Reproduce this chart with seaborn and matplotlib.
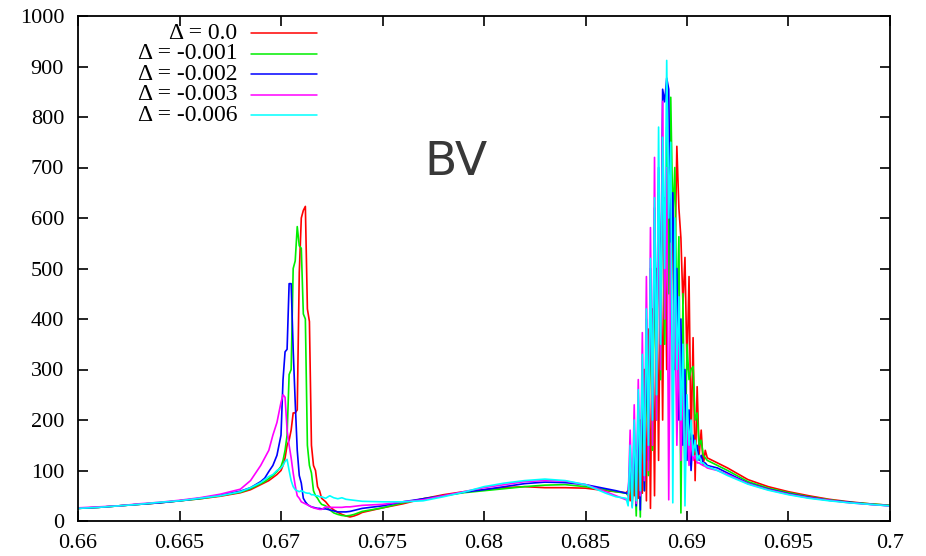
import numpy as np
import pandas as pd
import seaborn as sns
import matplotlib
matplotlib.use("Agg")
import matplotlib.pyplot as plt
from matplotlib.ticker import FuncFormatter

# ---------------- data ----------------
x_vals = ([0.660, 0.661, 0.662, 0.663, 0.664, 0.665, 0.666, 0.667, 0.668]
          + [0.6685, 0.6690, 0.6692, 0.6694, 0.6696, 0.6698, 0.6700]
          + [0.6701, 0.6702, 0.6703, 0.6704, 0.6705, 0.6706, 0.6707, 0.6708, 0.6709, 0.6710,
             0.6711, 0.6712, 0.6713, 0.6714, 0.6715, 0.6716, 0.6717, 0.6718, 0.6719, 0.6720]
          + [0.6722, 0.6724, 0.6726, 0.6728, 0.6730, 0.6732, 0.6734, 0.6736, 0.6738, 0.6740]
          + [0.675, 0.676, 0.677, 0.678, 0.679, 0.680, 0.681, 0.682, 0.683, 0.684, 0.685, 0.686]
          + [0.6865, 0.6870]
          + [0.6871, 0.6872, 0.6873, 0.6874, 0.6875, 0.6876, 0.6877, 0.6878, 0.6879, 0.6880,
             0.6881, 0.6882, 0.6883, 0.6884, 0.6885, 0.6886, 0.6887, 0.6888, 0.6889, 0.6890,
             0.6891, 0.6892, 0.6893, 0.6894, 0.6895, 0.6896, 0.6897, 0.6898, 0.6899, 0.6900,
             0.6901, 0.6902, 0.6903, 0.6904, 0.6905, 0.6906, 0.6907, 0.6908, 0.6909, 0.6910]
          + [0.6915, 0.692, 0.693, 0.694, 0.695, 0.696, 0.697, 0.698, 0.699, 0.700])

y_d0000 = ([25, 27, 30, 33, 36, 40, 44, 49, 56]
           + [62, 72, 76, 80, 86, 92, 100]
           + [110, 125, 150, 160, 180, 214, 214, 220, 492, 600, 615, 623, 420, 395, 150, 110, 100, 68, 60, 45]
           + [38, 28, 22, 17, 13, 10, 8, 10, 13, 17]
           + [26, 34, 44, 52, 58, 62, 66, 68, 66, 66, 65, 60]
           + [58, 56]
           + [60, 40, 90, 50, 140, 45, 200, 55, 300, 40, 380, 25, 420, 50, 500, 120, 560, 200, 640, 300,
              700, 380, 600, 500, 742, 620, 560, 430, 522, 300, 484, 150, 363, 80, 266, 130, 180, 110, 140, 125]
           + [115, 105, 82, 68, 58, 50, 43, 38, 34, 31])

y_d0001 = ([25, 27, 30, 33, 36, 40, 44, 50, 57]
           + [64, 74, 78, 84, 90, 98, 108]
           + [120, 140, 170, 290, 300, 500, 515, 583, 545, 540, 410, 400, 150, 110, 95, 60, 50, 45, 38, 33]
           + [30, 22, 16, 13, 11, 10, 11, 13, 16, 19]
           + [26, 36, 44, 50, 56, 60, 64, 68, 71, 72, 68, 62]
           + [58, 55]
           + [50, 100, 30, 130, 10, 180, 8, 250, 60, 350, 90, 450, 140, 550, 200, 650, 280, 720, 350, 780,
              450, 839, 600, 700, 400, 563, 16, 450, 100, 350, 280, 300, 306, 200, 214, 150, 160, 130, 125, 120]
           + [110, 100, 78, 65, 56, 48, 42, 37, 34, 31])

y_d0002 = ([25, 27, 30, 33, 36, 40, 45, 51, 59]
           + [66, 78, 85, 98, 110, 130, 170]
           + [280, 335, 340, 470, 470, 340, 235, 140, 90, 75, 45, 38, 33, 30, 28, 27, 26, 25, 25, 24]
           + [24, 22, 20, 18, 18, 18, 19, 21, 23, 25]
           + [30, 38, 44, 50, 57, 62, 68, 74, 77, 76, 72, 64]
           + [60, 55]
           + [55, 120, 40, 160, 30, 220, 22, 300, 60, 400, 120, 500, 200, 620, 300, 700, 400, 855, 830, 877,
              855, 500, 650, 300, 500, 200, 400, 150, 300, 120, 220, 100, 170, 140, 150, 120, 130, 115, 115, 110]
           + [105, 95, 75, 63, 54, 47, 41, 37, 33, 30])

y_d0003 = ([26, 28, 30, 34, 37, 41, 46, 53, 63]
           + [80, 110, 125, 140, 170, 195, 235]
           + [250, 245, 180, 150, 125, 95, 70, 50, 45, 38, 36, 34, 32, 30, 28, 26, 25, 24, 23, 23]
           + [28, 27, 27, 27, 27, 28, 28, 29, 30, 31]
           + [33, 38, 42, 50, 58, 66, 72, 78, 80, 79, 72, 58]
           + [50, 42]
           + [40, 180, 28, 230, 35, 280, 50, 373, 80, 484, 100, 581, 150, 720, 200, 650, 300, 831, 400, 700,
              42, 550, 200, 450, 150, 350, 120, 280, 100, 200, 110, 160, 120, 130, 115, 115, 112, 110, 108, 105]
           + [100, 92, 74, 62, 53, 46, 41, 36, 33, 30])

y_d0006 = ([25, 27, 30, 33, 37, 40, 45, 50, 58]
           + [66, 76, 82, 88, 92, 100, 105]
           + [110, 118, 122, 100, 80, 68, 62, 60, 58, 60, 58, 56, 55, 55, 52, 52, 50, 50, 48, 48]
           + [45, 50, 46, 44, 46, 43, 42, 41, 40, 39]
           + [38, 38, 40, 48, 57, 68, 75, 80, 83, 80, 72, 55]
           + [48, 45]
           + [30, 150, 26, 200, 40, 260, 60, 330, 90, 420, 150, 520, 200, 640, 250, 780, 350, 760, 500, 912,
              600, 750, 36, 600, 300, 444, 200, 350, 30, 250, 150, 200, 130, 160, 120, 130, 115, 115, 110, 108]
           + [100, 90, 73, 61, 52, 45, 40, 36, 33, 30])

series_labels = ["\u0394 = 0.0", "\u0394 = -0.001", "\u0394 = -0.002", "\u0394 = -0.003", "\u0394 = -0.006"]
series_values = [y_d0000, y_d0001, y_d0002, y_d0003, y_d0006]
series_colors = ["#ff0000", "#00ee00", "#0000ff", "#ff00ff", "#00ffff"]

x_ticks = [0.66, 0.665, 0.67, 0.675, 0.68, 0.685, 0.69, 0.695, 0.7]
y_ticks = [0, 100, 200, 300, 400, 500, 600, 700, 800, 900, 1000]

# ---------------- build long table ----------------
frames = []
for lab, ys in zip(series_labels, series_values):
    frames.append(pd.DataFrame({"x": x_vals, "y": ys, "series": lab}))
df = pd.concat(frames, ignore_index=True)

sns.set_theme(style="ticks")
plt.rcParams["font.family"] = ["Liberation Serif", "DejaVu Serif"]

W, H = 926, 556
fig = plt.figure(figsize=(W / 100, H / 100), dpi=100)
ax = fig.add_axes([78 / W, 35 / H, 812 / W, 505 / H])

sns.lineplot(data=df, x="x", y="y", hue="series", hue_order=series_labels,
             palette=dict(zip(series_labels, series_colors)),
             estimator=None, sort=False, linewidth=1.2, legend=False, ax=ax)

ax.set_xlim(0.66, 0.70)
ax.set_ylim(0, 1000)
ax.set_xticks(x_ticks)
ax.set_yticks(y_ticks)
ax.xaxis.set_major_formatter(FuncFormatter(lambda v, p: f"{v:g}"))
ax.set_xlabel("")
ax.set_ylabel("")
ax.tick_params(direction="in", top=True, right=True, length=7, width=1.2,
               labelsize=16, colors="black")
ax.tick_params(axis="y", pad=10)
ax.tick_params(axis="x", pad=9)
for s in ax.spines.values():
    s.set_visible(True)
    s.set_linewidth(1.3)
    s.set_color("black")

# legend (gnuplot style: right-aligned text, line sample to the right)
for i, (lab, col) in enumerate(zip(series_labels, series_colors)):
    yy = 0.966 - i * 0.0406
    ax.text(0.196, yy, lab, transform=ax.transAxes, ha="right", va="center",
            fontsize=17, color="black")
    ax.plot([0.213, 0.294], [yy, yy], transform=ax.transAxes, color=col, lw=1.1)

ax.text(0.465, 0.709, "BV", transform=ax.transAxes, ha="center", va="center",
        fontsize=34, color="#383838", family="DejaVu Sans")

fig.savefig("out.png", dpi=100)
